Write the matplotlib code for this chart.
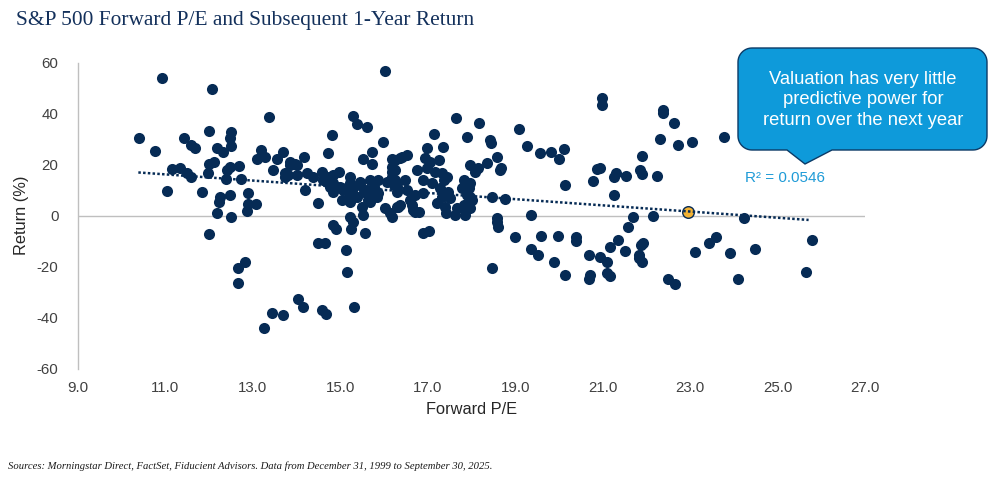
import numpy as np
import matplotlib
matplotlib.use("Agg")
import matplotlib.pyplot as plt
from matplotlib.path import Path
from matplotlib.patches import PathPatch

# ---------------- data ----------------
pe = [
    10.40, 10.92, 10.75, 11.42, 11.59, 11.68, 11.99, 12.06, 12.17, 12.31, 12.50, 12.48, 12.50,
    11.16, 11.33, 11.49, 11.58, 11.03, 11.83, 12.00, 12.10, 11.98, 12.40, 12.48, 12.39, 12.69,
    12.72, 12.25, 12.23, 12.48, 12.88, 12.88, 13.07, 12.17, 12.49, 12.86, 13.36, 13.18, 13.10,
    13.28, 13.45, 13.55, 13.70, 13.85, 13.97, 14.16, 13.74, 13.81, 14.19, 14.48, 14.71, 14.80,
    15.30, 15.38, 15.62, 15.97, 16.03, 15.72, 15.51, 15.72, 16.18, 16.37, 16.18,
    11.99, 12.65, 12.82, 12.65, 14.03, 14.14, 13.43, 13.70, 13.26, 14.57, 14.67, 15.31, 14.48,
    14.65, 15.13, 15.15, 14.83, 14.90, 15.22, 15.28, 15.24, 15.51, 15.56,
    13.85, 14.00, 13.74, 14.00, 14.23, 14.38, 14.57, 14.96, 15.22, 15.45, 15.68, 15.87, 14.61,
    14.84, 15.03, 15.19, 15.38, 15.61, 15.72, 15.22, 15.49, 15.64, 15.84, 16.03, 16.14, 16.33,
    16.18, 16.29, 16.25, 16.18, 16.25, 16.25, 16.48, 16.29, 16.52, 16.71, 16.90, 16.60, 17.28,
    17.47, 17.32, 17.51, 17.21, 17.40, 17.67, 17.82, 18.01, 17.97, 16.29, 16.67, 17.63, 17.86,
    16.37, 16.63, 16.71, 16.79, 17.42, 17.80, 17.97, 16.18, 14.73, 14.84, 14.69, 14.77, 14.84,
    15.00, 15.06, 15.22, 15.30, 15.45, 15.53, 15.76, 15.84, 15.22, 15.03, 15.68, 15.87, 16.06,
    16.22, 16.29,
    17.64, 18.18, 17.15, 17.89, 18.43, 18.44, 17.34, 16.98, 16.41, 16.52, 16.94, 17.06, 17.25,
    18.58, 18.35, 17.97, 18.16, 18.08, 18.66, 18.68, 16.75, 16.98, 17.17, 17.32, 17.44, 17.36,
    16.90, 17.09, 17.82, 17.97, 17.78, 17.94, 17.90, 18.47, 18.77, 18.58,
    16.89, 17.02, 18.58, 18.60, 18.47, 19.36, 18.99, 19.59, 19.98, 19.36, 19.53, 19.88, 20.13,
    20.40, 20.40, 20.69, 20.70, 20.68, 20.94, 21.10, 21.10, 21.17, 21.16, 21.34, 21.50, 21.59,
    21.69, 21.82, 21.82, 21.90, 21.88, 21.92, 22.15,
    20.98, 20.98, 22.38, 22.38, 22.64, 22.32, 22.72, 23.04, 23.77, 21.90, 21.86, 21.90, 22.24,
    21.31, 21.27, 21.54, 20.94, 21.27, 19.08, 19.27, 19.57, 19.82, 20.01, 20.11, 20.14, 20.87,
    20.78,
    24.24, 22.49, 22.66, 23.12, 23.43, 23.60, 23.92, 24.48, 24.09, 25.79, 25.66,
]
ret = [
    30.6, 54.2, 25.5, 30.6, 27.6, 26.7, 33.3, 49.6, 26.4, 25.1, 32.9, 30.6, 27.3,
    18.2, 18.6, 16.6, 15.3, 9.8, 9.4, 20.3, 21.2, 16.9, 17.9, 19.0, 14.3, 19.5,
    14.3, 7.5, 5.5, 8.1, 8.8, 4.6, 4.6, 1.2, -0.4, 2.0, 38.8, 25.8, 22.1,
    23.1, 17.9, 22.1, 25.1, 21.2, 20.5, 22.9, 15.3, 16.0, 10.1, 4.9, 24.7, 31.6,
    39.1, 35.8, 34.9, 29.0, 56.8, 25.1, 22.1, 20.5, 22.1, 22.5, 19.2,
    -7.0, -20.3, -18.0, -26.2, -32.7, -35.6, -38.2, -38.7, -43.8, -36.9, -38.4, -35.8, -10.8,
    -10.8, -13.4, -21.9, -3.6, -5.2, -0.6, -2.3, -5.2, 0.3, -6.6,
    19.9, 19.9, 16.6, 16.0, 16.6, 15.3, 17.3, 17.3, 15.3, 13.3, 14.0, 14.0, 14.0,
    12.7, 10.8, 9.4, 7.5, 10.1, 7.5, 5.5, 3.6, 6.2, 7.5, 2.9, 1.0, 3.6,
    15.3, 12.7, 21.8, 17.3, 17.9, 14.0, 14.0, 11.4, 10.1, 8.1, 8.8, 6.2, 10.8,
    9.4, 7.5, 6.8, 4.9, 3.6, 2.9, 4.2, 6.2, 7.5, 3.6, 2.3, 0.3, 0.3,
    4.2, 4.2, 1.6, 1.6, 1.0, 2.9, 2.9, -0.4, 15.3, 16.0, 13.3, 11.4, 9.4,
    11.4, 10.1, 12.7, 10.8, 12.1, 9.4, 11.4, 9.4, 8.1, 6.2, 5.5, 8.8, 13.3,
    12.1, 9.4,
    38.5, 36.4, 31.9, 30.7, 29.9, 28.4, 26.8, 26.4, 22.9, 23.8, 22.5, 21.2, 21.8,
    22.9, 20.8, 19.9, 18.6, 17.3, 17.9, 18.8, 17.9, 18.6, 17.3, 16.9, 15.3, 14.0,
    14.0, 12.7, 14.0, 12.7, 10.8, 10.8, 8.1, 7.5, 6.7, -1.0,
    -6.8, -5.8, -2.3, -4.3, -20.5, 0.3, -8.2, -7.8, -7.8, -13.1, -15.3, -18.0, -23.0,
    -8.4, -9.7, -15.2, -23.2, -24.9, -16.2, -18.0, -22.3, -23.6, -12.3, -9.5, -13.7, -4.3,
    -0.6, -15.3, -16.6, -18.0, -11.4, -10.5, 0.0,
    46.0, 43.4, 41.4, 40.4, 36.4, 30.1, 27.8, 29.0, 31.0, 23.4, 17.9, 16.4, 15.6,
    16.6, 15.1, 15.6, 18.6, 8.1, 33.9, 27.4, 24.7, 25.1, 22.3, 26.3, 12.2, 18.4,
    13.7,
    -1.0, -24.9, -26.7, -14.1, -10.5, -8.2, -14.7, -13.1, -24.7, -9.5, -21.9,
]
current_pe = [22.96]
current_ret = [1.6]
trend_pe = [10.38, 25.71]
trend_ret = [17.0, -1.6]
x_ticks = [9, 11, 13, 15, 17, 19, 21, 23, 25, 27]
y_ticks = [-60, -40, -20, 0, 20, 40, 60]
r2_label = "R\u00b2 = 0.0546"
callout_text = "Valuation has very little\npredictive power for\nreturn over the next year"
title = "S&P 500 Forward P/E and Subsequent 1-Year Return"
footer = ("Sources: Morningstar Direct, FactSet, Fiducient Advisors. "
          "Data from December 31, 1999 to September 30, 2025.")

NAVY = "#062B55"
W, H = 995, 487

fig = plt.figure(figsize=(W / 100, H / 100), dpi=100)
fig.patch.set_facecolor("white")
ax = fig.add_axes([78 / W, 1 - 369 / H, (865 - 78) / W, (369 - 62.7) / H])

ax.scatter(pe, ret, s=64, color=NAVY, linewidths=0, zorder=3)
ax.scatter(current_pe, current_ret, s=70, color="#F2B233", edgecolors=NAVY,
           linewidths=1.0, zorder=4)
ax.plot(trend_pe, trend_ret, color=NAVY, lw=1.8, linestyle=(0, (1.0, 0.9)),
        dash_capstyle="butt", zorder=5)

ax.set_xlim(9, 27)
ax.set_ylim(-60, 60)
ax.set_xticks(x_ticks)
ax.set_xticklabels([f"{t:.1f}" for t in x_ticks])
ax.set_yticks(y_ticks)
ax.set_yticklabels([str(t) for t in y_ticks])
for s in ("top", "right", "bottom"):
    ax.spines[s].set_visible(False)
ax.spines["left"].set_color("#BFBFBF")
ax.spines["left"].set_linewidth(1.0)
ax.axhline(0, color="#BFBFBF", lw=1.0, zorder=1)
ax.tick_params(length=0, labelsize=10.8, labelcolor="#404040")
ax.tick_params(axis="y", pad=14)
ax.tick_params(axis="x", pad=9)
for lab in ax.get_xticklabels() + ax.get_yticklabels():
    lab.set_fontfamily("Liberation Sans")

fig.text(22 / W, 1 - 215 / H, "Return (%)", rotation=90, ha="center", va="center",
         fontsize=11.8, family="Liberation Sans", color="#262626")
fig.text(472 / W, 1 - 409 / H, "Forward P/E", ha="center", va="center",
         fontsize=11.8, family="Liberation Sans", color="#262626")

fig.text(16 / W, 1 - 20 / H, title, ha="left", va="center", fontsize=15.4,
         family="Liberation Serif", color="#13305B")
fig.text(8 / W, 1 - 466 / H, footer, ha="left", va="center", fontsize=7.7,
         family="Liberation Serif", style="italic", color="#1A1A1A")

# callout bubble (pixel geometry)
x0, x1, y0, y1, r = 738, 987, 48, 150, 14
bx0, bx1, tipx, tipy = 787, 832, 805, 164
pts = []
def arc(cx, cy, a0, a1):
    for a in np.linspace(np.radians(a0), np.radians(a1), 12):
        pts.append((cx + r * np.cos(a), cy + r * np.sin(a)))
# image coords, y downward
arc(x0 + r, y0 + r, 180, 270)
arc(x1 - r, y0 + r, 270, 360)
arc(x1 - r, y1 - r, 0, 90)
pts.append((bx1, y1))
pts.append((tipx, tipy))
pts.append((bx0, y1))
arc(x0 + r, y1 - r, 90, 180)
pts.append(pts[0])
verts = [(px / W, 1 - py / H) for px, py in pts]
codes = [Path.MOVETO] + [Path.LINETO] * (len(verts) - 2) + [Path.CLOSEPOLY]
patch = PathPatch(Path(verts, codes), facecolor="#0E9ADA", edgecolor="#0B3A66",
                  lw=1.0, transform=fig.transFigure, zorder=10)
fig.add_artist(patch)
fig.text(863 / W, 1 - 100 / H, callout_text, ha="center", va="center", color="white",
         fontsize=13.2, family="Liberation Sans", linespacing=1.3, zorder=11)
fig.text(785 / W, 1 - 178 / H, r2_label, ha="center", va="center", color="#1F9BD7",
         fontsize=11, family="Liberation Sans")

fig.savefig("out.png", dpi=100)
